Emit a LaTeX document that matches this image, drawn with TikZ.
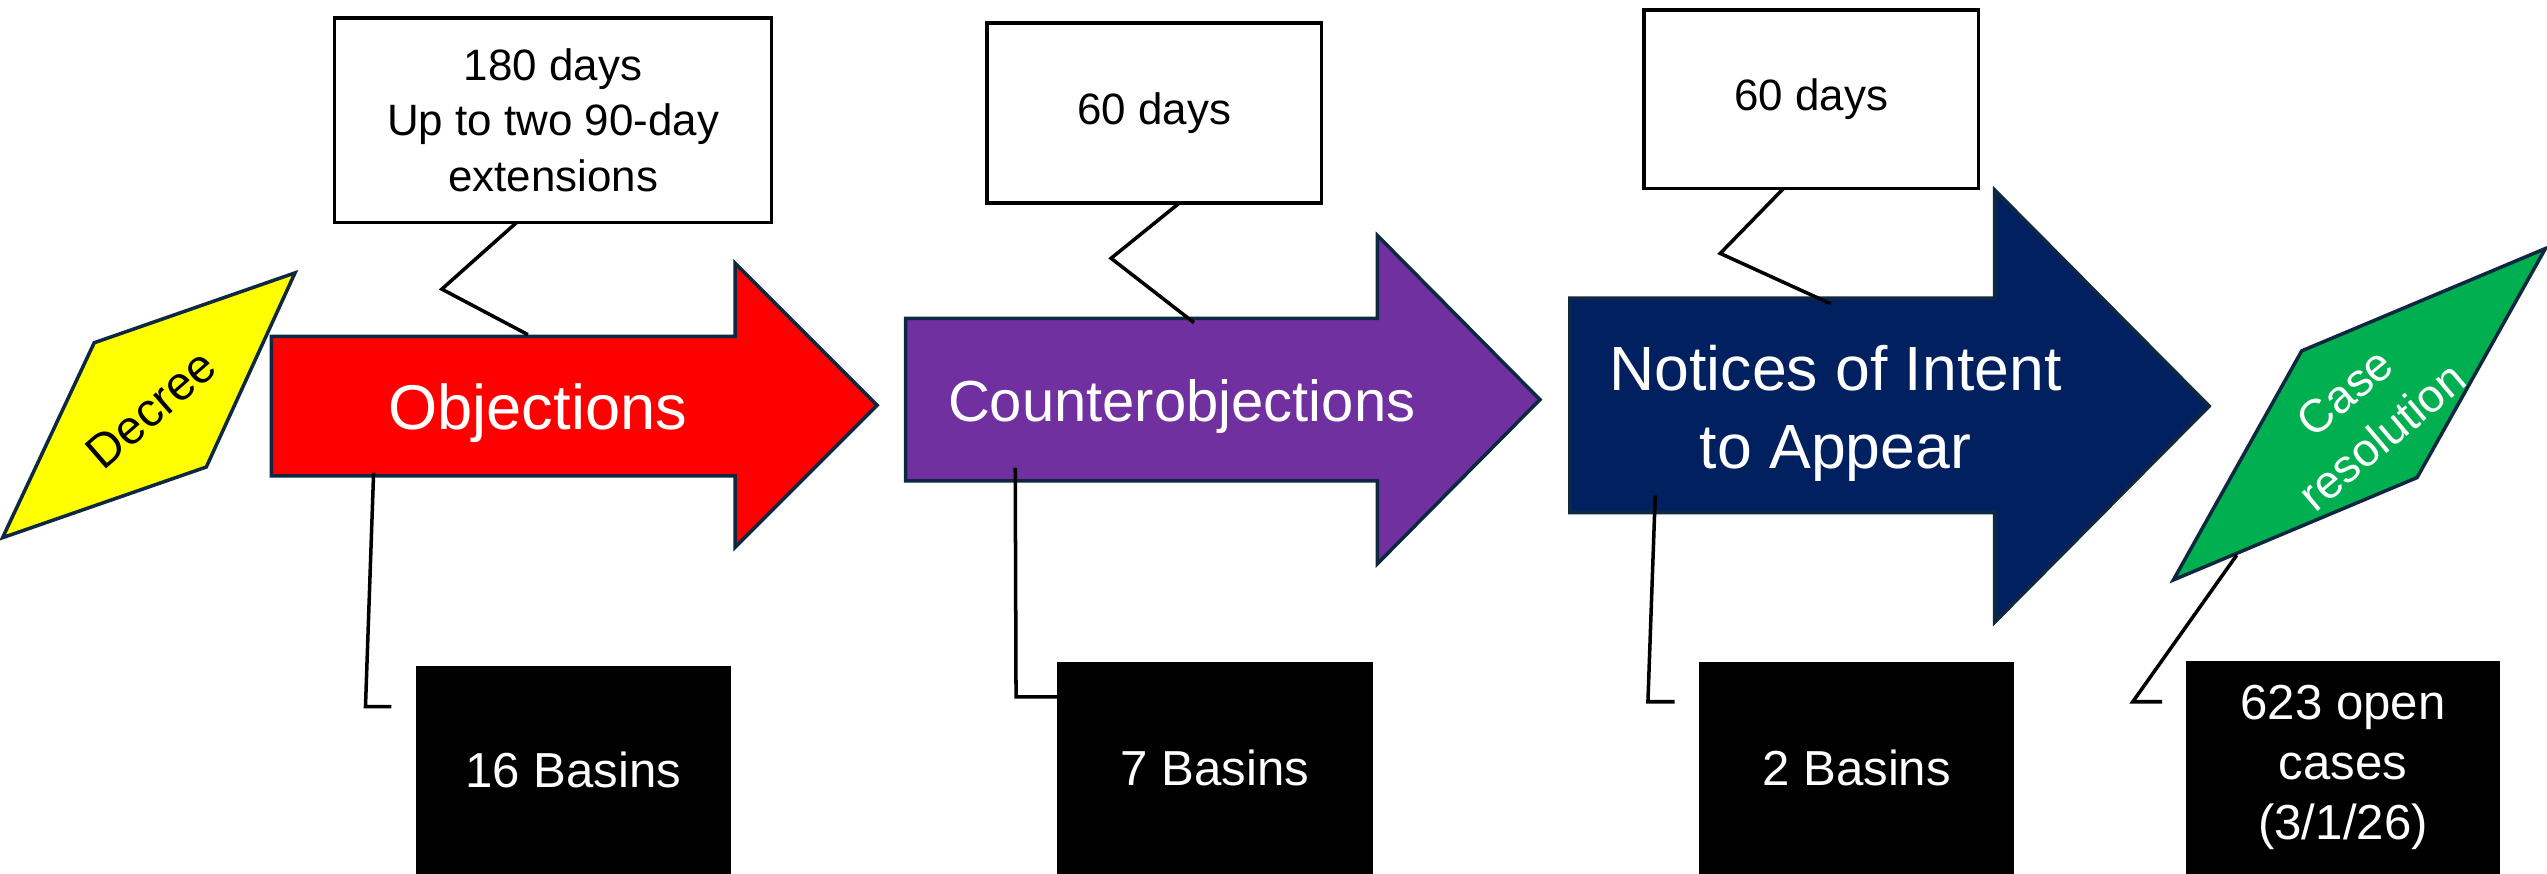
\documentclass[tikz,border=0pt]{standalone}
\usepackage{fontspec}
\setmainfont{Liberation Sans}
\definecolor{outl}{HTML}{0E2841}
\definecolor{redf}{HTML}{FF0000}
\definecolor{purf}{HTML}{7030A0}
\definecolor{navf}{HTML}{002060}
\definecolor{yelf}{HTML}{FFFF00}
\definecolor{grnf}{HTML}{00B050}
\begin{document}
\begin{tikzpicture}[x=0.016244cm,y=-0.016244cm,
  wh/.style 2 args={minimum width=#1*0.016244cm,minimum height=#2*0.016244cm},
  shapeline/.style={draw=outl,line width=1pt,line join=miter},
  callbox/.style={draw=black,line width=1pt,fill=white,inner sep=0pt,align=center,text=black},
  countbox/.style={fill=black,inner sep=0pt,align=center,text=white,font=\fontsize{14}{17}\selectfont},
  conn/.style={draw=black,line width=1pt},
  biglabel/.style={text=white,align=center,inner sep=0pt}]
\useasboundingbox[fill=white] (0,0) rectangle (1568,538);

% ---- Decree parallelogram
\coordinate (d1) at (181.6,168);
\coordinate (d2) at (58,211);
\coordinate (d3) at (1.6,331);
\coordinate (d4) at (127,287.5);
\path[shapeline,fill=yelf] (d1) -- (d2) -- (d3) -- (d4) -- cycle;
\node[rotate=41,text=black,inner sep=0pt,font=\fontsize{13.5}{16}\selectfont] (decree) at (93,252) {Decree};

% ---- Objections arrow
\path[shapeline,fill=redf] (167,207) -- (452.5,207) -- (452.5,162) -- (540,249.5) -- (452.5,337) -- (452.5,293) -- (167,293) -- cycle;
\node[biglabel,font=\fontsize{18}{21}\selectfont] (obj) at (331,254.5) {Objections};

% ---- Counterobjections arrow
\path[shapeline,fill=purf] (557.5,196) -- (848,196) -- (848,145) -- (948,246) -- (848,347) -- (848,296) -- (557.5,296) -- cycle;
\node[biglabel,font=\fontsize{16.5}{20}\selectfont] (cobj) at (727.5,250.5) {Counterobjections};

% ---- Notices arrow
\path[shapeline,fill=navf] (966.5,183.5) -- (1228,183.5) -- (1228,117) -- (1360,250) -- (1228,383) -- (1228,315.5) -- (966.5,315.5) -- cycle;
\node[biglabel,font=\fontsize{17.8}{22.3}\selectfont] (nia) at (1130,254.5) {Notices of Intent\\to Appear};

% ---- Case resolution parallelogram
\coordinate (g1) at (1567,153);
\coordinate (g2) at (1417,216);
\coordinate (g3) at (1338,357);
\coordinate (g4) at (1488,294);
\path[shapeline,fill=grnf] (g1) -- (g2) -- (g3) -- (g4) -- cycle;
\node[rotate=40,biglabel,font=\fontsize{13.2}{16.5}\selectfont] (caseres) at (1455,255) {Case\\resolution};

% ---- Top callouts
\node[callbox,wh={269}{126},font=\fontsize{12.5}{15.8}\selectfont] (c1) at (340.5,74) {180 days\\Up to two 90-day\\extensions};
\node[callbox,wh={206}{111},font=\fontsize{12.5}{15}\selectfont] (c2) at (710.6,69.5) {60 days};
\node[callbox,wh={206}{110},font=\fontsize{12.5}{15}\selectfont] (c3) at (1115,61) {60 days};

\coordinate (p1a) at (318,137);   \coordinate (p1b) at (272,178);   \coordinate (p1c) at (325,206);
\coordinate (p2a) at (726,125);   \coordinate (p2b) at (684,159);   \coordinate (p2c) at (735,198.6);
\coordinate (p3a) at (1098,116);  \coordinate (p3b) at (1059,156);  \coordinate (p3c) at (1127,187);
\draw[conn] (p1a) -- (p1b) -- (p1c);
\draw[conn] (p2a) -- (p2b) -- (p2c);
\draw[conn] (p3a) -- (p3b) -- (p3c);

% ---- Bottom count boxes
\node[countbox,wh={194}{128}] (b1) at (353,474) {16 Basins};
\node[countbox,wh={194}{130.4}] (b2) at (748,472.8) {7 Basins};
\node[countbox,wh={194}{130.4}] (b3) at (1143,472.8) {2 Basins};
\node[countbox,wh={193.3}{131}] (b4) at (1442.4,472.5) {623 open\\cases\\(3/1/26)};

\coordinate (q1a) at (230,291);   \coordinate (q1b) at (225,435);    \coordinate (q1c) at (241,435);
\coordinate (q2a) at (625,288);   \coordinate (q2b) at (625.5,429);  \coordinate (q2c) at (651,429);
\coordinate (q3a) at (1019,305);  \coordinate (q3b) at (1014.5,432); \coordinate (q3c) at (1031,432);
\coordinate (q4a) at (1377,341.7);\coordinate (q4b) at (1313,432);   \coordinate (q4c) at (1331,432);
\draw[conn] (q1a) -- (q1b) -- (q1c);
\draw[conn] (q2a) -- (q2b) -- (q2c);
\draw[conn] (q3a) -- (q3b) -- (q3c);
\draw[conn] (q4a) -- (q4b) -- (q4c);
\end{tikzpicture}
\end{document}
